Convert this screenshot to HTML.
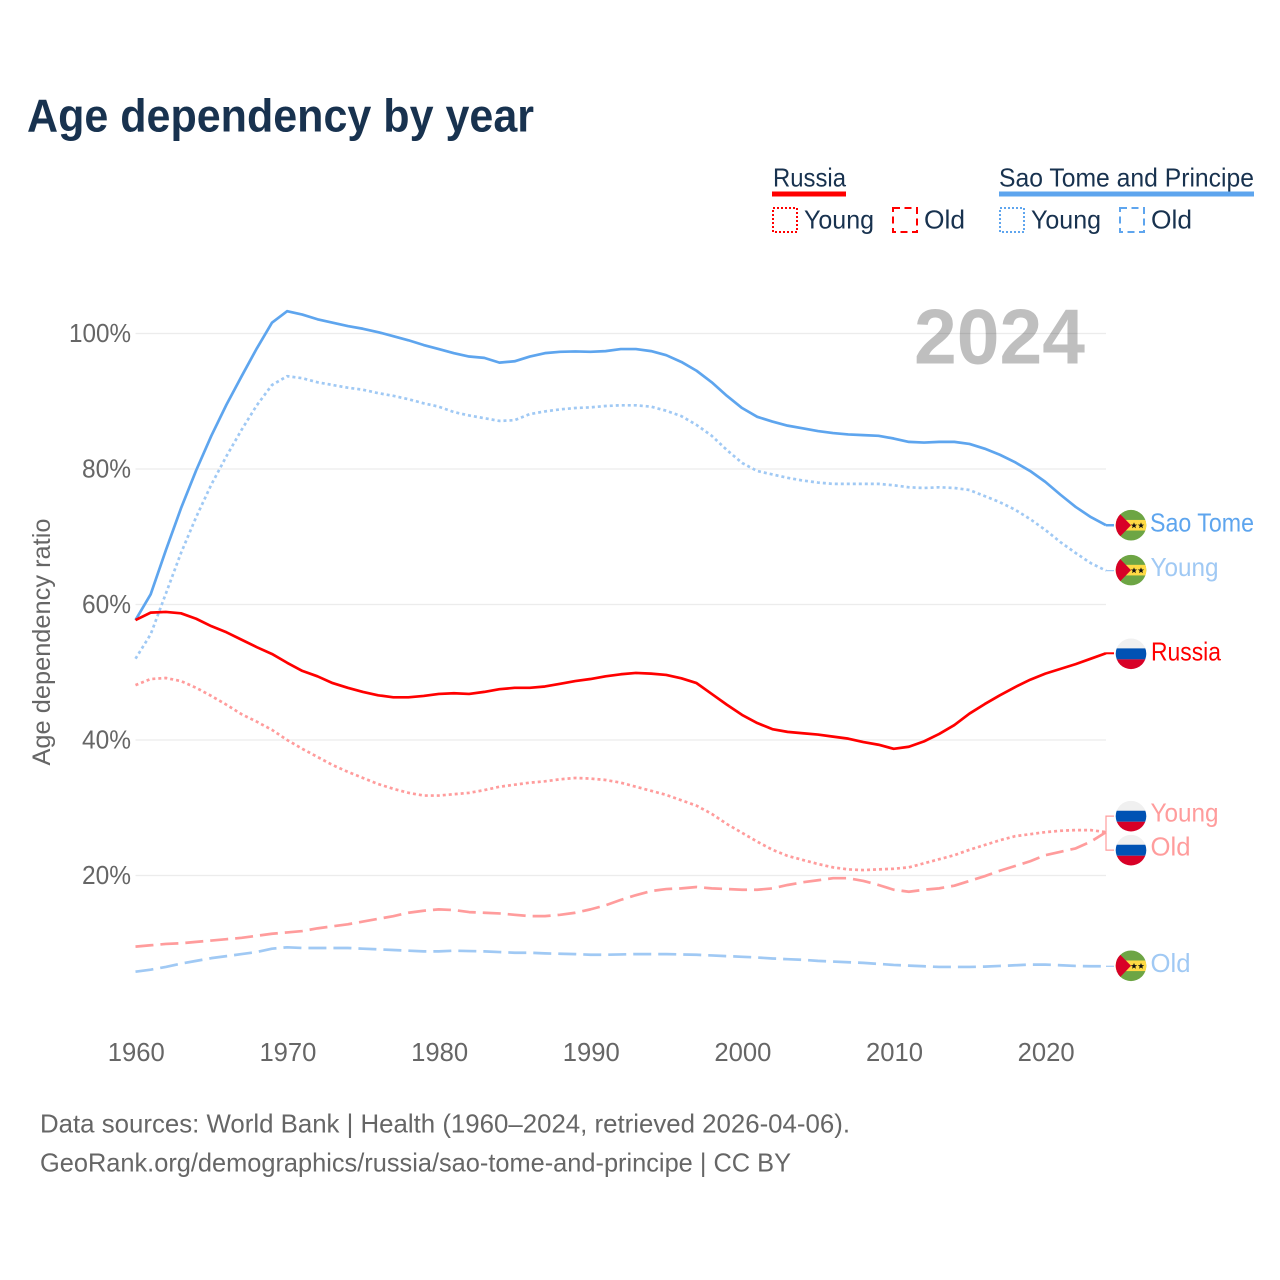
<!DOCTYPE html>
<html lang="en">
<head>
<meta charset="utf-8">
<title>Age dependency by year</title>
<style>
html,body{margin:0;padding:0;background:#fff;}
svg{display:block;}
text{font-family:"Liberation Sans",sans-serif;}
</style>
</head>
<body>
<svg id="chart" xmlns="http://www.w3.org/2000/svg" width="1280" height="1280" viewBox="0 0 1280 1280">
  <rect x="0" y="0" width="1280" height="1280" fill="#ffffff"/>
  <defs>
    <clipPath id="flag-clip"><circle cx="0" cy="0" r="15.3"/></clipPath>
  </defs>
  <text x="27" y="131.5" font-size="46" font-weight="700" fill="#18324f" textLength="507" lengthAdjust="spacingAndGlyphs">Age dependency by year</text>

  <g>
    <g>
      <text x="773" y="186.5" font-size="26" fill="#18324f" textLength="73" lengthAdjust="spacingAndGlyphs">Russia</text>
      <rect x="772" y="191.5" width="74" height="5" fill="#ff0000"/>
      <rect x="773" y="208" width="24" height="24" fill="none" stroke="#ff0000" stroke-width="2" stroke-dasharray="2 2"/>
      <text x="804" y="228.5" font-size="26" fill="#18324f" textLength="70" lengthAdjust="spacingAndGlyphs">Young</text>
      <rect x="893" y="208" width="24" height="24" fill="none" stroke="#ff0000" stroke-width="2" stroke-dasharray="7 4.5"/>
      <text x="924" y="228.5" font-size="26" fill="#18324f" textLength="41" lengthAdjust="spacingAndGlyphs">Old</text>
    </g>
    <g>
      <text x="999" y="186.5" font-size="26" fill="#18324f" textLength="255" lengthAdjust="spacingAndGlyphs">Sao Tome and Principe</text>
      <rect x="999" y="191.5" width="255" height="5" fill="#5ea5ee"/>
      <rect x="1000" y="208" width="24" height="24" fill="none" stroke="#5ea5ee" stroke-width="2" stroke-dasharray="2 2"/>
      <text x="1031" y="228.5" font-size="26" fill="#18324f" textLength="70" lengthAdjust="spacingAndGlyphs">Young</text>
      <rect x="1120" y="208" width="24" height="24" fill="none" stroke="#5ea5ee" stroke-width="2" stroke-dasharray="7 4.5"/>
      <text x="1151" y="228.5" font-size="26" fill="#18324f" textLength="41" lengthAdjust="spacingAndGlyphs">Old</text>
    </g>
  </g>

  <text transform="translate(50,642) rotate(-90)" text-anchor="middle" font-size="25" fill="#666666" textLength="247" lengthAdjust="spacingAndGlyphs">Age dependency ratio</text>
  <g id="grid"></g>
  <g id="yticks"></g>
  <g id="xticks"></g>
  <text x="914" y="363.5" font-size="78" font-weight="700" fill="#000000" fill-opacity="0.25" textLength="171" lengthAdjust="spacingAndGlyphs">2024</text>
  <g id="lines"></g>
  <g id="ends"></g>

  <text x="40" y="1132.5" font-size="26" fill="#666666" textLength="810" lengthAdjust="spacingAndGlyphs">Data sources: World Bank | Health (1960–2024, retrieved 2026-04-06).</text>
  <text x="40" y="1171.5" font-size="26" fill="#666666" textLength="751" lengthAdjust="spacingAndGlyphs">GeoRank.org/demographics/russia/sao-tome-and-principe | CC BY</text>
</svg>

<script>
const yearStart = 1960;
const xTickYears = [1960, 1970, 1980, 1990, 2000, 2010, 2020];
const yTickValues = [20, 40, 60, 80, 100];

const saoTomeTotal = [57.7,61.5,68,74.2,79.8,84.9,89.5,93.7,97.8,101.6,103.3,102.8,102.1,101.6,101.1,100.7,100.2,99.6,99,98.3,97.7,97.1,96.6,96.4,95.7,95.9,96.6,97.1,97.3,97.35,97.3,97.4,97.7,97.7,97.4,96.8,95.8,94.5,92.8,90.8,89,87.7,87,86.4,86,85.6,85.3,85.1,85,84.9,84.5,84,83.9,84,84,83.7,83,82.1,81,79.7,78.1,76.2,74.4,72.9,71.7];
const saoTomeYoung = [52,55.6,61.6,67.6,72.9,77.7,81.9,85.8,89.4,92.4,93.7,93.4,92.8,92.4,92,91.7,91.2,90.8,90.3,89.7,89.2,88.4,87.9,87.5,87.1,87.2,88.1,88.5,88.8,89,89.1,89.3,89.4,89.4,89.2,88.6,87.8,86.5,84.9,82.8,80.9,79.7,79.2,78.7,78.3,78,77.8,77.8,77.8,77.8,77.6,77.3,77.2,77.3,77.2,76.9,76,75.1,74,72.6,71,69.2,67.6,66.1,65];
const saoTomeOld = [5.8,6.1,6.5,7,7.4,7.8,8.1,8.4,8.7,9.2,9.4,9.3,9.3,9.3,9.3,9.2,9.1,9,8.9,8.8,8.8,8.9,8.85,8.8,8.7,8.6,8.6,8.5,8.45,8.4,8.3,8.3,8.35,8.4,8.4,8.4,8.35,8.3,8.2,8.1,8,7.9,7.75,7.65,7.55,7.4,7.3,7.2,7.1,6.95,6.8,6.7,6.6,6.5,6.5,6.5,6.55,6.65,6.75,6.85,6.85,6.75,6.65,6.6,6.6];
const russiaTotal = [57.7,58.8,58.9,58.7,57.9,56.8,55.9,54.8,53.7,52.7,51.4,50.2,49.4,48.4,47.7,47.1,46.6,46.3,46.3,46.5,46.8,46.9,46.8,47.1,47.5,47.7,47.7,47.9,48.3,48.7,49,49.4,49.7,49.9,49.8,49.6,49.1,48.4,46.8,45.2,43.7,42.5,41.6,41.2,41,40.8,40.5,40.2,39.7,39.3,38.7,39,39.8,40.9,42.2,43.9,45.3,46.6,47.8,48.9,49.8,50.5,51.2,52,52.8];
const russiaYoung = [48.1,49,49.15,48.7,47.7,46.5,45.2,43.8,42.7,41.5,40,38.7,37.5,36.3,35.3,34.4,33.5,32.8,32.2,31.8,31.8,32,32.2,32.6,33.1,33.4,33.7,33.9,34.2,34.4,34.3,34.1,33.7,33.1,32.5,31.9,31.1,30.3,29.1,27.6,26.3,25,23.8,22.9,22.3,21.7,21.2,20.9,20.8,20.9,21,21.2,21.8,22.4,23,23.8,24.5,25.2,25.8,26.1,26.4,26.6,26.7,26.7,26.4];
const russiaOld = [9.5,9.7,9.9,10,10.2,10.4,10.6,10.8,11.1,11.4,11.6,11.8,12.2,12.5,12.8,13.2,13.6,14,14.5,14.8,15,14.9,14.6,14.5,14.4,14.2,14,14,14.2,14.5,15,15.6,16.4,17.1,17.7,18,18.1,18.3,18.1,18,17.9,17.9,18.1,18.6,19,19.3,19.6,19.6,19.2,18.6,17.9,17.6,17.9,18.1,18.5,19.2,19.9,20.7,21.4,22.1,23,23.5,24,25,26.4];

const NS = 'http://www.w3.org/2000/svg';
function xScale(year) { return 135.5 + (year - 1960) * (970.5 / 64); }
function yScale(v) { return 875.5 - (v - 20) * 6.775; }
function make(tag, attrs, parent, txt) {
  const el = document.createElementNS(NS, tag);
  for (const k in attrs) el.setAttribute(k, attrs[k]);
  if (txt !== undefined) el.textContent = txt;
  parent.appendChild(el);
  return el;
}

const gridG = document.getElementById('grid');
const yG = document.getElementById('yticks');
const xG = document.getElementById('xticks');
yTickValues.forEach(function (v) {
  const g = make('line', {x1: 135.5, x2: 1106, y1: yScale(v), y2: yScale(v), stroke: '#ececec', 'stroke-width': 1.2}, gridG);
  
  
  const label = v + '%';
  const t = make('text', {x: 131, y: yScale(v) + 8.5, 'text-anchor': 'end', 'font-size': 26, fill: '#666666', textLength: v === 100 ? 62 : 49, lengthAdjust: 'spacingAndGlyphs'}, yG, label);
  
  
});
xTickYears.forEach(function (yr) {
  const t = make('text', {x: xScale(yr) + 0.8, y: 1061, 'text-anchor': 'middle', 'font-size': 26, fill: '#666666', textLength: 57, lengthAdjust: 'spacingAndGlyphs'}, xG, String(yr));
  
  
});

const linesG = document.getElementById('lines');
function drawLine(values, color, dash, name) {
  const d = values.map(function (v, i) {
    return (i ? 'L' : 'M') + xScale(yearStart + i).toFixed(2) + ' ' + yScale(v).toFixed(2);
  }).join(' ');
  const p = make('path', {d: d, fill: 'none', stroke: color, 'stroke-width': 2.7, 'stroke-linejoin': 'round'}, linesG);
  if (dash) p.setAttribute('stroke-dasharray', dash);
  
  
}
const BLUE = '#5ea5ee', LBLUE = '#a0c9f4', RED = '#ff0000', PINK = '#ff9c9c';
const DOT = '3 3', DASH = '18 7';
drawLine(saoTomeOld, LBLUE, DASH, 'line-sao-tome-old');
drawLine(russiaOld, PINK, DASH, 'line-russia-old');
drawLine(saoTomeYoung, LBLUE, DOT, 'line-sao-tome-young');
drawLine(russiaYoung, PINK, DOT, 'line-russia-young');
drawLine(saoTomeTotal, BLUE, null, 'line-sao-tome-total');
drawLine(russiaTotal, RED, null, 'line-russia-total');

const endsG = document.getElementById('ends');
const FLAG_X = 1131;
function flagSTP(y, name) {
  const g = make('g', {transform: 'translate(' + FLAG_X + ',' + y + ')', 'clip-path': 'url(#flag-clip)'}, endsG);
  
  
  make('rect', {x: -16, y: -16, width: 32, height: 32, fill: '#6da544'}, g);
  make('rect', {x: -16, y: -5.3, width: 32, height: 10.6, fill: '#ffda44'}, g);
  make('polygon', {points: '-16,-16 -10.4,-10.6 0,0 -10.4,10.8 -16,16', fill: '#d80027'}, g);
  make('polygon', {points: '3,-2.8 3.9,-0.6 6.2,-0.6 4.3,0.8 5,3 3,1.7 1,3 1.7,0.8 -0.2,-0.6 2.1,-0.6', fill: '#111111'}, g);
  make('polygon', {points: '10,-2.8 10.9,-0.6 13.2,-0.6 11.3,0.8 12,3 10,1.7 8,3 8.7,0.8 6.8,-0.6 9.1,-0.6', fill: '#111111'}, g);
}
function flagRU(y, name) {
  const g = make('g', {transform: 'translate(' + FLAG_X + ',' + y + ')', 'clip-path': 'url(#flag-clip)'}, endsG);
  
  
  make('rect', {x: -16, y: -16, width: 32, height: 32, fill: '#f0f0f0'}, g);
  make('rect', {x: -16, y: -5.4, width: 32, height: 11, fill: '#0052b4'}, g);
  make('rect', {x: -16, y: 5.6, width: 32, height: 11, fill: '#d80027'}, g);
}
function endLabel(y, text, color, width, x, name) {
  const t = make('text', {x: x, y: y, 'font-size': 26, fill: color, textLength: width, lengthAdjust: 'spacingAndGlyphs'}, endsG, text);
  
  
}
function connector(y0, y1, color, width, name) {
  const c = make('polyline', {points: '1106,' + y0 + ' 1106,' + y1 + ' 1114,' + y1, fill: 'none', stroke: color, 'stroke-width': width}, endsG);
  
  
}

const last = function (a) { return a[a.length - 1]; };
const yST = yScale(last(saoTomeTotal));
const ySY = yScale(last(saoTomeYoung));
const yRT = yScale(last(russiaTotal));
const yRY = yScale(last(russiaYoung));
const ySO = yScale(last(saoTomeOld));

connector(yST, yST, BLUE, 2.5, 'connector-sao-tome');
connector(ySY, ySY, LBLUE, 1.2, 'connector-sao-tome-young');
connector(yRT, yRT, RED, 2, 'connector-russia');
connector(yRY, yRY - 16, PINK, 1.2, 'connector-russia-young');
connector(yRY, yRY + 18, PINK, 1.2, 'connector-russia-old');
connector(ySO, ySO, LBLUE, 1.2, 'connector-sao-tome-old');

flagSTP(yST, 'flag-sao-tome');
flagSTP(ySY - 0.5, 'flag-sao-tome-young');
flagRU(yRT + 0.5, 'flag-russia');
flagRU(yRY - 16, 'flag-russia-young');
flagRU(yRY + 18, 'flag-russia-old');
flagSTP(ySO - 0.5, 'flag-sao-tome-old');

endLabel(yST + 6.5, 'Sao Tome', BLUE, 104, 1150, 'end-label-sao-tome');
endLabel(ySY + 5.5, 'Young', LBLUE, 68, 1150.5, 'end-label-sao-tome-young');
endLabel(yRT + 7, 'Russia', RED, 70, 1151, 'end-label-russia');
endLabel(yRY - 10.5, 'Young', PINK, 68, 1150.5, 'end-label-russia-young');
endLabel(yRY + 23.5, 'Old', PINK, 40, 1150.5, 'end-label-russia-old');
endLabel(ySO + 5.5, 'Old', LBLUE, 40, 1150.5, 'end-label-sao-tome-old');
</script>
</body>
</html>
